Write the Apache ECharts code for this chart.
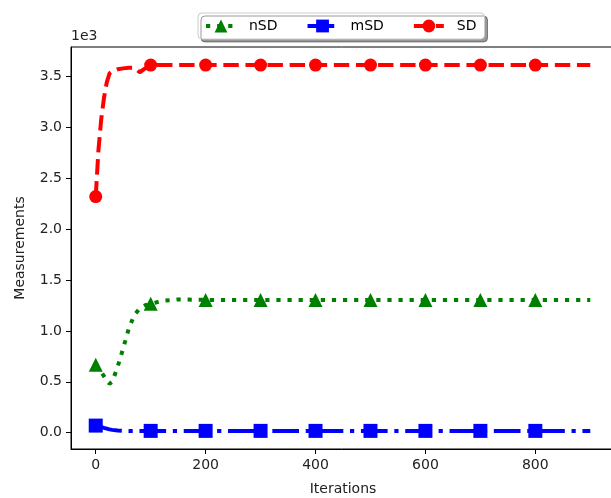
<!DOCTYPE html>
<html>
<head>
<meta charset="utf-8">
<script src="https://cdn.jsdelivr.net/npm/echarts@6/dist/echarts.min.js"></script>
<style>
html,body{margin:0;padding:0;background:#fff;}
#chart{width:611px;height:498px;}
</style>
</head>
<body>
<div id="chart"></div>
<script>
// Data
const iterations = [0,5,10,15,20,25,30,40,50,60,70,80,90,100,120,150,200,300,400,500,600,700,800,900];
const nSD = [669,630,594,555,519,480,500,650,830,1020,1155,1222,1252,1266,1295,1310,1305,1305,1305,1305,1305,1305,1305,1305];
const mSD = [70,62,55,47,40,33,28,22,19,18,18,18,18,18,18,18,18,18,18,18,18,18,18,18];
const SD  = [2320,2780,3080,3290,3440,3530,3550,3572,3580,3586,3588,3542,3580,3612,3612,3612,3612,3612,3612,3612,3612,3612,3612,3612];
const markerIters = [0,100,200,300,400,500,600,700,800];
const xTicks = [0,200,400,600,800];
const yTicks = [0,500,1000,1500,2000,2500,3000,3500];

const FONT = 'DejaVu Sans';
function build(ys){
  return iterations.map((x,i)=> markerIters.includes(x) ? {value:[x, ys[i]]} : {value:[x, ys[i]], symbol:'none'});
}
const chart = echarts.init(document.getElementById('chart'));
chart.setOption({
  animation:false,
  backgroundColor:'#fff',
  textStyle:{fontFamily:FONT},
  grid:{left:71, top:47, right:-4, bottom:49, show:true, borderColor:'#000', borderWidth:1, backgroundColor:'#fff',
        containLabel:false, outerBoundsMode:'none'},
  legend:{
    left:198, top:13, padding:[6,8,6,6], itemWidth:30, itemHeight:16, itemGap:28,
    backgroundColor:'#fff', borderColor:'#ccc', borderWidth:1, borderRadius:4,
    shadowColor:'rgba(0,0,0,0.4)', shadowOffsetX:3, shadowOffsetY:3, shadowBlur:0,
    lineStyle:{width:4},
    textStyle:{fontFamily:FONT, fontSize:14, color:'#000', padding:[0,0,0,8]},
    data:['nSD','mSD','SD']
  },
  xAxis:{
    type:'value', min:-45, max:945, splitLine:{show:false},
    axisLine:{show:true, onZero:false, lineStyle:{color:'#000', width:1}},
    axisTick:{show:true, length:5, lineStyle:{color:'#000'}, customValues:xTicks},
    axisLabel:{fontFamily:FONT, fontSize:14, color:'#222', margin:9, customValues:xTicks},
    name:'Iterations', nameLocation:'middle', nameGap:33,
    nameTextStyle:{fontFamily:FONT, fontSize:14, color:'#222'}
  },
  yAxis:{
    type:'value', min:-160, max:3790, splitLine:{show:false},
    axisLine:{show:true, onZero:false, lineStyle:{color:'#000', width:1}},
    axisTick:{show:true, length:5, lineStyle:{color:'#000'}, customValues:yTicks},
    axisLabel:{fontFamily:FONT, fontSize:14, color:'#222', margin:9, customValues:yTicks,
      formatter:v=>(v/1000).toFixed(1)},
  },
  graphic:[
    {type:'text', left:71, top:29, style:{text:'1e3', font:'14px "DejaVu Sans"', fill:'#222'}},
    {type:'text', x:20, y:248, rotation:Math.PI/2,
     style:{text:'Measurements', font:'14px "DejaVu Sans"', fill:'#222', textAlign:'center', textVerticalAlign:'middle'}}
  ],
  series:[
    {name:'nSD', type:'line', data:build(nSD), symbol:'triangle', symbolSize:14, showAllSymbol:true,
     itemStyle:{color:'#008000', borderWidth:0}, lineStyle:{color:'#008000', width:4, type:[4.2,6.9], cap:'butt'}, z:3},
    {name:'mSD', type:'line', data:build(mSD), symbol:'rect', symbolSize:14, showAllSymbol:true,
     itemStyle:{color:'#0000ff', borderWidth:0}, lineStyle:{color:'#0000ff', width:4, type:[26.7,6.7,4.2,6.7], cap:'butt'}, z:3},
    {name:'SD', type:'line', data:build(SD), symbol:'circle', symbolSize:13, showAllSymbol:true,
     itemStyle:{color:'#ff0000', borderWidth:0}, lineStyle:{color:'#ff0000', width:4, type:[15.4,6.7], cap:'butt'}, z:3}
  ]
});
</script>
</body>
</html>
